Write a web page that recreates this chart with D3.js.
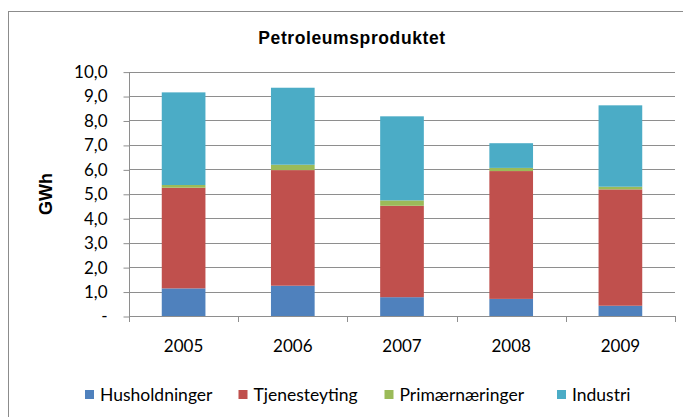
<!DOCTYPE html>
<html>
<head>
<meta charset="utf-8">
<style>
  body { margin: 0; background: #fff; }
  svg text { font-family: Lato, "Open Sans", sans-serif; }
</style>
<script src="https://cdn.jsdelivr.net/npm/d3@7"></script>
</head>
<body>
<script>
// data (GWh)
var years = ["2005", "2006", "2007", "2008", "2009"];
var series = ["Husholdninger", "Tjenesteyting", "Primærnæringer", "Industri"];
var husholdninger = [1.13, 1.24, 0.77, 0.70, 0.42];
var tjenesteyting = [4.12, 4.73, 3.74, 5.23, 4.76];
var primaer = [0.11, 0.22, 0.22, 0.13, 0.11];
var industri = [3.79, 3.15, 3.44, 1.01, 3.33];
var yTicks = [0, 1, 2, 3, 4, 5, 6, 7, 8, 9, 10];
var colors = ["#4F81BD", "#C0504D", "#9BBB59", "#4BACC6"];

var W = 683, H = 417;
var plot = {left: 129, right: 675, top: 71.6, bottom: 316};

var rows = years.map(function(y, i) {
  return {year: y, "Husholdninger": husholdninger[i], "Tjenesteyting": tjenesteyting[i],
          "Primærnæringer": primaer[i], "Industri": industri[i]};
});

var svg = d3.select("body").append("svg").attr("width", W).attr("height", H);

// chart frame
svg.append("rect").attr("x", 8.5).attr("y", 11.5).attr("width", 700).attr("height", 420)
  .attr("fill", "none").attr("stroke", "#8c8c8c").attr("stroke-width", 1);

var x = d3.scaleBand().domain(years).range([plot.left, plot.right]).paddingInner(0.6).paddingOuter(0.3);
var y = d3.scaleLinear().domain([0, 10]).range([plot.bottom, plot.top]);
var color = d3.scaleOrdinal().domain(series).range(colors);

// gridlines
svg.append("g").selectAll("line").data(yTicks.slice(1)).enter().append("line")
  .attr("x1", plot.left).attr("x2", plot.right)
  .attr("y1", function(d) { return Math.round(y(d)) + 0.5; })
  .attr("y2", function(d) { return Math.round(y(d)) + 0.5; })
  .attr("stroke", "#8e8e8e").attr("stroke-width", 1);

// bars
var stacked = d3.stack().keys(series)(rows);
svg.append("g").selectAll("g").data(stacked).enter().append("g")
  .attr("fill", function(d) { return color(d.key); })
  .selectAll("rect").data(function(d) { return d; }).enter().append("rect")
    .attr("x", function(d) { return x(d.data.year); })
    .attr("width", x.bandwidth())
    .attr("y", function(d) { return y(d[1]); })
    .attr("height", function(d) { return y(d[0]) - y(d[1]); });

// y axis
var yAxis = svg.append("g").attr("transform", "translate(" + (plot.left + 0.5) + ",0.5)")
  .call(d3.axisLeft(y).tickValues(yTicks).tickSize(6).tickPadding(16)
    .tickFormat(function(d) { return d === 0 ? "-" : d3.format(".1f")(d).replace(".", ","); }));
yAxis.select(".domain").attr("stroke", "#8e8e8e").attr("d", "M0," + y(10) + "V" + plot.bottom);
yAxis.selectAll(".tick line").attr("stroke", "#8e8e8e");
yAxis.selectAll("text").attr("font-size", 17).attr("fill", "#000");

// x axis
var bounds = d3.range(years.length + 1).map(function(i) { return plot.left + i * (plot.right - plot.left) / years.length; });
svg.append("line").attr("x1", plot.left).attr("x2", plot.right)
  .attr("y1", plot.bottom + 0.5).attr("y2", plot.bottom + 0.5).attr("stroke", "#8e8e8e");
svg.append("g").selectAll("line").data(bounds).enter().append("line")
  .attr("x1", function(d) { return Math.round(d) + 0.5; }).attr("x2", function(d) { return Math.round(d) + 0.5; })
  .attr("y1", plot.bottom).attr("y2", plot.bottom + 6).attr("stroke", "#8e8e8e");
svg.append("g").selectAll("text").data(years).enter().append("text")
  .attr("x", function(d) { return x(d) + x.bandwidth() / 2; })
  .attr("y", 352).attr("text-anchor", "middle").attr("font-size", 17)
  .text(function(d) { return d; });

// title
svg.append("text").attr("x", 352).attr("y", 44).attr("text-anchor", "middle")
  .attr("font-size", 17.5).attr("font-weight", "bold").attr("letter-spacing", 0.6)
  .style("font-family", "'Liberation Sans', Arial, sans-serif")
  .text("Petroleumsproduktet");

// y label
svg.append("text").attr("transform", "translate(52,194) rotate(-90)")
  .attr("text-anchor", "middle").attr("font-size", 18).attr("font-weight", "bold")
  .style("font-family", "'Liberation Sans', Arial, sans-serif")
  .text("GWh");

// legend
var legendX = [85, 238.5, 384.5, 557];
var lg = svg.append("g").selectAll("g").data(series).enter().append("g")
  .attr("transform", function(d, i) { return "translate(" + legendX[i] + ",390)"; });
lg.append("rect").attr("width", 9).attr("height", 9).attr("fill", function(d) { return color(d); });
lg.append("text").attr("x", 15).attr("y", 11).attr("font-size", 17.5).text(function(d) { return d; });
</script>
</body>
</html>
